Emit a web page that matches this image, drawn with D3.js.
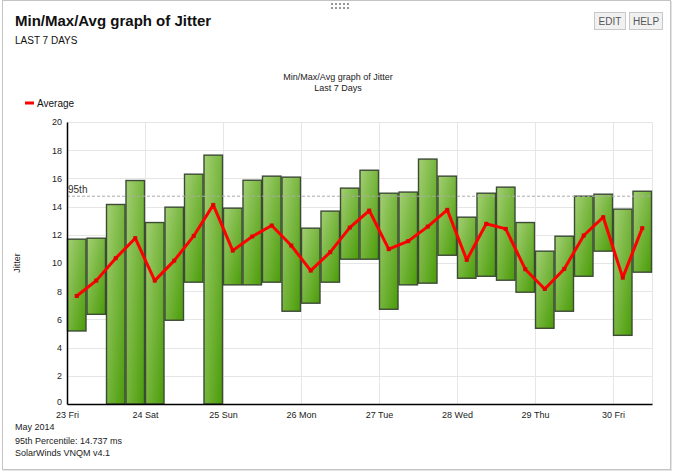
<!DOCTYPE html>
<html><head><meta charset="utf-8">
<script src="https://cdn.jsdelivr.net/npm/d3@7"></script>
<style>
body{margin:0;background:#fff;font-family:"Liberation Sans",Arial,sans-serif;}
svg{display:block;}
</style></head>
<body>
<svg id="c" width="676" height="472"></svg>
<script>
const maxVals = [11.69,11.76,14.15,15.85,12.87,13.96,16.30,17.65,13.89,15.87,16.16,16.09,12.47,13.68,15.31,16.58,14.95,15.03,17.37,16.16,13.25,14.95,15.38,12.87,10.84,11.90,14.74,14.88,13.82,15.09];
const minVals = [5.18,6.36,0,0,0,5.94,8.64,0,8.45,8.45,8.64,6.58,7.15,8.64,10.27,10.27,6.72,8.45,8.57,10.55,8.92,9.06,8.78,7.93,5.37,6.58,9.06,10.84,4.87,9.35];
const avgVals = [7.66,8.75,10.34,11.76,8.75,10.17,11.92,14.12,10.88,11.88,12.66,11.24,9.46,10.77,12.51,13.72,10.98,11.55,12.58,13.77,10.22,12.78,12.42,9.56,8.16,9.58,11.95,13.25,8.96,12.47];
const dayLabels = ["23 Fri","24 Sat","25 Sun","26 Mon","27 Tue","28 Wed","29 Thu","30 Fri"];
const yTicks = [0,2,4,6,8,10,12,14,16,18,20];
const p95 = 14.737;

const svg = d3.select("#c");
const start = new Date(2014,4,23,0,0);
const end = new Date(2014,4,30,12,0);
const x = d3.scaleTime().domain([start,end]).range([67,652]);
const y = d3.scaleLinear().domain([0,20]).range([404,122]);
const binMs = 6*3600*1000;
const data = maxVals.map((m,i)=>({t0:new Date(start.getTime()+i*binMs), t1:new Date(start.getTime()+(i+1)*binMs), max:m, min:minVals[i], avg:avgVals[i]}));

// frame
svg.append("rect").attr("x",2.5).attr("y",0.5).attr("width",668).attr("height",469).attr("fill","#fff").attr("stroke","#c4c4c4").attr("stroke-width",1);
svg.append("line").attr("x1",3).attr("x2",671).attr("y1",470.5).attr("y2",470.5).attr("stroke","#e4e4e4");
svg.append("line").attr("x1",671.5).attr("x2",671.5).attr("y1",1).attr("y2",471).attr("stroke","#e4e4e4");
// drag handle
for(let r=0;r<2;r++)for(let c=0;c<5;c++)svg.append("rect").attr("x",331+c*4).attr("y",3+r*4).attr("width",2).attr("height",2).attr("fill","#999");

svg.append("text").attr("x",15).attr("y",26).attr("font-size",15).attr("font-weight","bold").attr("fill","#111").text("Min/Max/Avg graph of Jitter");
svg.append("text").attr("x",15).attr("y",44).attr("font-size",10).attr("fill","#111").text("LAST 7 DAYS");

// buttons
[["EDIT",594,31],["HELP",629,33]].forEach(([t,bx,bw])=>{
  svg.append("rect").attr("x",bx+0.5).attr("y",12.5).attr("width",bw).attr("height",17).attr("fill","#f1f1f1").attr("stroke","#c8c8c8");
  svg.append("text").attr("x",bx+bw/2+0.5).attr("y",25).attr("text-anchor","middle").attr("font-size",10).attr("fill","#555").text(t);
});

svg.append("text").attr("x",338).attr("y",80).attr("text-anchor","middle").attr("font-size",9).attr("fill","#222").text("Min/Max/Avg graph of Jitter");
svg.append("text").attr("x",338).attr("y",91).attr("text-anchor","middle").attr("font-size",9).attr("fill","#222").text("Last 7 Days");

// legend
svg.append("rect").attr("x",25).attr("y",101.5).attr("width",9).attr("height",3).attr("fill","#ff0000");
svg.append("text").attr("x",37).attr("y",107).attr("font-size",10).attr("fill","#111").text("Average");

// gradient
const defs = svg.append("defs");
const g = defs.append("linearGradient").attr("id","bg").attr("x1",0).attr("y1",0).attr("x2",1).attr("y2",1);
g.append("stop").attr("offset","0%").attr("stop-color","#a3cf73");
g.append("stop").attr("offset","100%").attr("stop-color","#4a9c08");

// grid
const dayTicks = d3.timeDay.range(start, end);
svg.append("g").selectAll("line").data(yTicks.slice(1)).join("line")
  .attr("x1",67).attr("x2",652).attr("y1",d=>Math.round(y(d))+0.5).attr("y2",d=>Math.round(y(d))+0.5).attr("stroke","#e6e6e6");
svg.append("g").selectAll("line").data(dayTicks.slice(1).concat([end])).join("line")
  .attr("x1",d=>Math.round(x(d))+0.5).attr("x2",d=>Math.round(x(d))+0.5).attr("y1",122).attr("y2",404).attr("stroke","#e6e6e6");

// bars
svg.append("g").selectAll("rect").data(data).join("rect")
  .attr("x",d=>x(d.t0)+0.5).attr("width",d=>x(d.t1)-x(d.t0)-1)
  .attr("y",d=>y(d.max)).attr("height",d=>y(d.min)-y(d.max))
  .attr("fill","url(#bg)").attr("stroke","#3c4a36").attr("stroke-width",1.4);

// 95th line
svg.append("line").attr("x1",67).attr("x2",652).attr("y1",y(p95)).attr("y2",y(p95)).attr("stroke","#aaa").attr("stroke-dasharray","3,2");
svg.append("text").attr("x",68).attr("y",y(p95)-3).attr("font-size",10).attr("fill","#333").text("95th");

// avg line
const line = d3.line().x(d=>x(new Date((d.t0.getTime()+d.t1.getTime())/2))).y(d=>y(d.avg));
svg.append("path").datum(data).attr("d",line).attr("fill","none").attr("stroke","#ff0000").attr("stroke-width",3).attr("stroke-linejoin","round");
svg.append("g").selectAll("rect").data(data).join("rect")
  .attr("x",d=>x(new Date((d.t0.getTime()+d.t1.getTime())/2))-2).attr("y",d=>y(d.avg)-2).attr("width",4).attr("height",4).attr("fill","#e00000");

// axes
const yAxis = d3.axisLeft(y).tickValues(yTicks).tickSize(0).tickPadding(5);
const ya = svg.append("g").attr("transform","translate(67,0)").call(yAxis);
ya.select(".domain").attr("stroke","#000").attr("stroke-width",1.5);
ya.selectAll("text").attr("font-size",9).attr("fill","#222").attr("font-family","Liberation Sans, Arial, sans-serif");
ya.selectAll(".tick").filter(d=>d===0).select("text").attr("dy","0.1em");
const xAxis = d3.axisBottom(x).tickValues(dayTicks).tickFormat((d,i)=>dayLabels[i]).tickSize(0).tickPadding(8);
const xa = svg.append("g").attr("transform","translate(0,404)").call(xAxis);
xa.select(".domain").attr("stroke","#000").attr("stroke-width",1.5);
xa.selectAll("text").attr("font-size",9).attr("fill","#222").attr("font-family","Liberation Sans, Arial, sans-serif");

svg.append("text").attr("transform","translate(20,263) rotate(-90)").attr("text-anchor","middle").attr("font-size",9).attr("fill","#222").text("Jitter");

svg.append("text").attr("x",15).attr("y",430).attr("font-size",9).attr("fill","#222").text("May 2014");
svg.append("text").attr("x",15).attr("y",444).attr("font-size",9).attr("fill","#222").text("95th Percentile: 14.737 ms");
svg.append("text").attr("x",15).attr("y",456).attr("font-size",9).attr("fill","#222").text("SolarWinds VNQM v4.1");
</script>
</body></html>
